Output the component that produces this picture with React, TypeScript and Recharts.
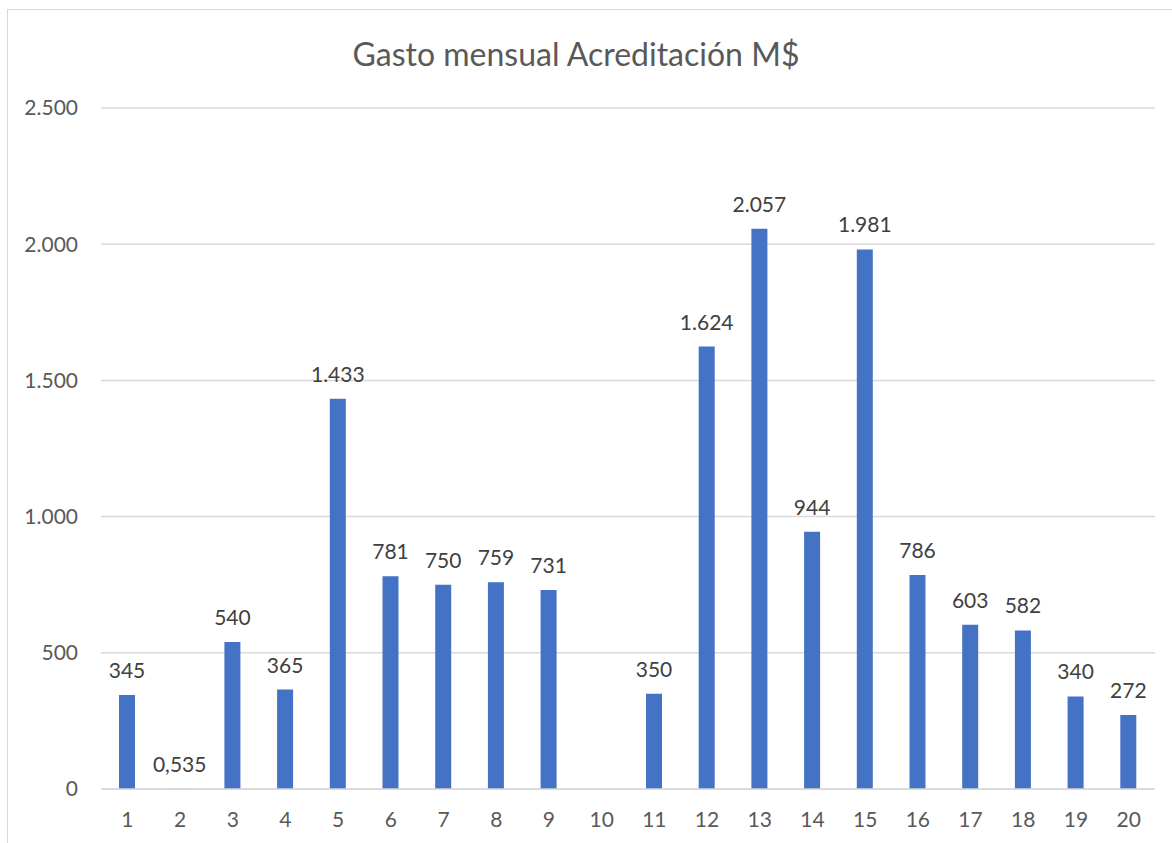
import { BarChart, Bar, XAxis, YAxis, CartesianGrid, LabelList } from 'recharts';

const months = ['1', '2', '3', '4', '5', '6', '7', '8', '9', '10', '11', '12', '13', '14', '15', '16', '17', '18', '19', '20'];
const gasto: (number | null)[] = [345, 0.535, 540, 365, 1433, 781, 750, 759, 731, null, 350, 1624, 2057, 944, 1981, 786, 603, 582, 340, 272];
const yTicks = [0, 500, 1000, 1500, 2000, 2500];

const data = months.map((m, i) => ({ mes: m, gasto: gasto[i] }));

const FONT = 'Lato, "Open Sans", sans-serif';

// formato chileno: punto de miles, coma decimal
const fmt = (v: any) => {
  if (v === null || v === undefined) return '';
  const n = Number(v);
  if (n > 0 && n < 1) return n.toFixed(3).replace('.', ',');
  return n.toLocaleString('de-DE', { maximumFractionDigits: 0 });
};

export default function App() {
  return (
    <div style={{ position: 'absolute', left: 0, top: 0, width: 1172, height: 843, overflow: 'hidden', background: '#fff', fontFamily: FONT }}>
      {/* chart frame */}
      <div style={{ position: 'absolute', left: 7, top: 9, width: 1300, height: 1000, border: '1px solid #d9d9d9' }} />
      <div style={{ position: 'absolute', left: 0, width: 1152, top: 34, textAlign: 'center', fontSize: 32, color: '#595959' }}>
        Gasto mensual Acreditación M$
      </div>
      <div style={{ position: 'absolute', left: 0, top: 0 }}>
        <BarChart width={1172} height={843} data={data} margin={{ top: 108, right: 17, bottom: 0, left: 0 }}>
          <CartesianGrid vertical={false} stroke="#d9d9d9" strokeWidth={1.5} />
          <XAxis
            dataKey="mes"
            height={54}
            axisLine={{ stroke: '#d9d9d9', strokeWidth: 1.5 }}
            tickLine={false}
            tickSize={0}
            tickMargin={23}
            interval={0}
            tick={{ fill: '#595959', fontSize: 21, fontFamily: FONT }}
          />
          <YAxis
            width={101}
            domain={[0, 2500]}
            ticks={yTicks}
            axisLine={false}
            tickLine={false}
            tickSize={0}
            tickMargin={23}
            tickFormatter={fmt}
            tick={{ fill: '#595959', fontSize: 21, fontFamily: FONT }}
          />
          <Bar dataKey="gasto" fill="#4472c4" barSize={16} isAnimationActive={false}>
            <LabelList dataKey="gasto" position="top" offset={17} formatter={fmt} fill="#404040" fontSize={21} fontFamily={FONT} />
          </Bar>
        </BarChart>
      </div>
    </div>
  );
}
